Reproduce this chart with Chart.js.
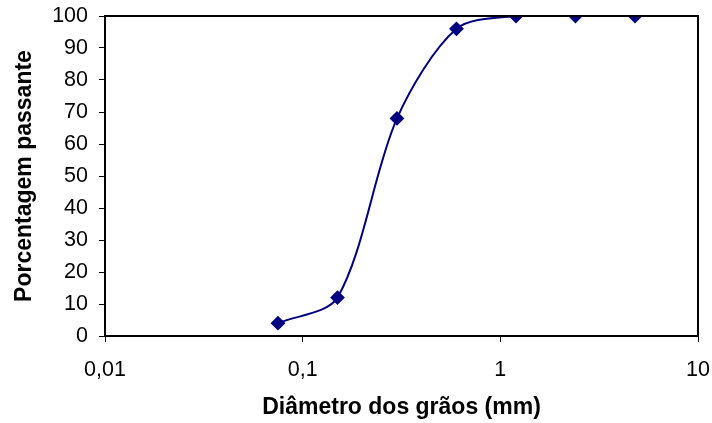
<!DOCTYPE html>
<html>
<head>
<meta charset="utf-8">
<script src="https://cdn.jsdelivr.net/npm/chart.js@4/dist/chart.umd.min.js"></script>
<style>
  body { margin: 0; background: #fff; }
  #wrap { width: 712px; height: 423px; }
</style>
</head>
<body>
<div id="wrap"><canvas id="grafico"></canvas></div>
<script>
// diâmetro (mm) e % passante
const diametros = [0.075, 0.15, 0.3, 0.6, 1.2, 2.4, 4.8];
const passante = [4, 12, 68, 96, 100, 100, 100];
const xTicks = [0.01, 0.1, 1, 10];
const yTicks = [0, 10, 20, 30, 40, 50, 60, 70, 80, 90, 100];

const fonte = 'Arial, "Liberation Sans", sans-serif';

// moldura preta em volta da área do gráfico
const moldura = {
  id: 'moldura',
  afterDraw(chart) {
    const { ctx, chartArea: a } = chart;
    ctx.save();
    ctx.strokeStyle = '#000';
    ctx.lineWidth = 2;
    ctx.strokeRect(a.left, a.top, a.right - a.left, a.bottom - a.top);
    ctx.restore();
  }
};

new Chart(document.getElementById('grafico'), {
  type: 'line',
  data: {
    datasets: [{
      data: diametros.map((d, i) => ({ x: d, y: passante[i] })),
      borderColor: '#000080',
      backgroundColor: '#000080',
      borderWidth: 2,
      pointStyle: 'rectRot',
      pointRadius: 6,
      pointHoverRadius: 6,
      tension: 0.3,
      fill: false
    }]
  },
  options: {
    responsive: true,
    maintainAspectRatio: false,
    animation: false,
    layout: { padding: { top: 16, right: 14, left: 0, bottom: 0 } },
    plugins: { legend: { display: false }, tooltip: { enabled: false } },
    scales: {
      x: {
        type: 'logarithmic',
        min: 0.01,
        max: 10,
        afterBuildTicks: (s) => { s.ticks = xTicks.map(v => ({ value: v })); },
        afterFit: (s) => { s.height = 87; s.paddingLeft = 0; s.paddingRight = 0; },
        border: { display: false },
        grid: { drawOnChartArea: false, tickLength: 6, color: '#000', lineWidth: 1 },
        ticks: {
          color: '#000',
          padding: 15,
          maxRotation: 0,
          font: { family: fonte, size: 21.5 },
          callback: (v) => String(v).replace('.', ',')
        },
        title: {
          display: true,
          text: 'Diâmetro dos grãos (mm)',
          color: '#000',
          font: { family: fonte, size: 23, weight: 'bold' },
          padding: { top: 0, bottom: 2 }
        }
      },
      y: {
        min: 0,
        max: 100,
        afterBuildTicks: (s) => { s.ticks = yTicks.map(v => ({ value: v })); },
        afterFit: (s) => { s.width = 105; s.paddingTop = 0; s.paddingBottom = 0; },
        border: { display: false },
        grid: { drawOnChartArea: false, tickLength: 6, color: '#000', lineWidth: 1 },
        ticks: {
          color: '#000',
          padding: 11,
          font: { family: fonte, size: 21.5 }
        },
        title: {
          display: true,
          text: 'Porcentagem passante',
          color: '#000',
          font: { family: fonte, size: 23, weight: 'bold' },
          padding: { top: 11, bottom: 0 }
        }
      }
    }
  },
  plugins: [moldura]
});
</script>
</body>
</html>
